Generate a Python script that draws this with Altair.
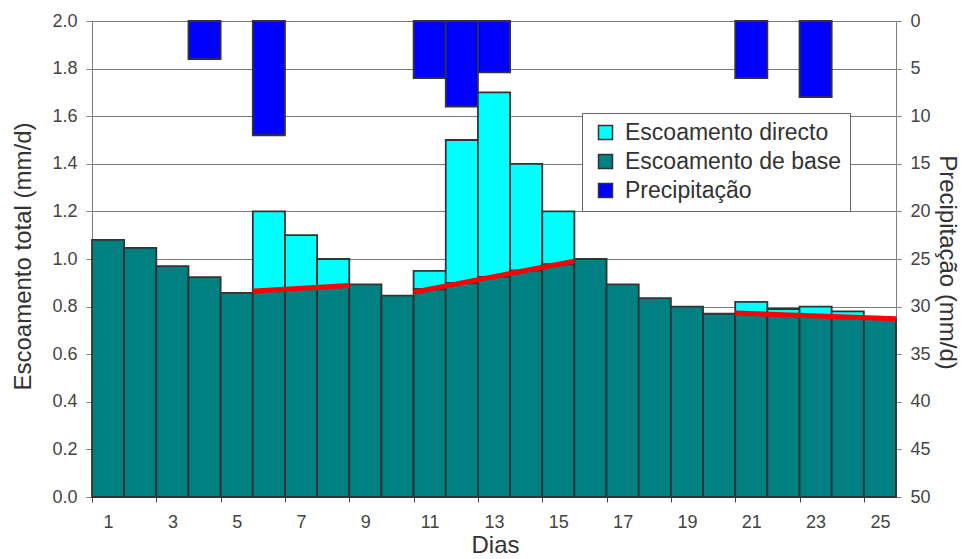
import altair as alt
import pandas as pd

# ---------------- data ----------------
days = list(range(1, 26))
base_flow = [1.080, 1.047, 0.970, 0.924, 0.858, 0.867, 0.877, 0.886, 0.893, 0.846,
             0.873, 0.899, 0.925, 0.951, 0.977, 1.000, 0.893, 0.836, 0.800, 0.770,
             0.770, 0.765, 0.760, 0.755, 0.750]
direct_days = [6, 7, 8, 11, 12, 13, 14, 15, 21, 22, 23, 24]
direct_total = [1.20, 1.10, 1.00, 0.95, 1.50, 1.70, 1.40, 1.20, 0.82, 0.79, 0.80, 0.78]
precip_days = [4, 6, 11, 12, 13, 21, 23]
precip_vals = [4.0, 12.0, 6.0, 9.0, 5.4, 6.0, 8.0]
sep_segment = [1, 1, 2, 2, 3, 3]
sep_x = [5.5, 8.5, 10.5, 15.5, 20.5, 25.5]
sep_y = [0.865, 0.889, 0.861, 0.991, 0.773, 0.749]

series_names = ["Escoamento directo", "Escoamento de base", "Precipitação"]
series_colors = ["#00FFFF", "#008080", "#0000FF"]
left_ticks = [0.0, 0.2, 0.4, 0.6, 0.8, 1.0, 1.2, 1.4, 1.6, 1.8, 2.0]
right_ticks = [0, 5, 10, 15, 20, 25, 30, 35, 40, 45, 50]
x_bounds = [d - 0.5 for d in days] + [25.5]

# ---------------- tables ----------------
base_by_day = dict(zip(days, base_flow))
df_base = pd.DataFrame({"dia": days, "y0": 0.0, "y1": base_flow, "serie": series_names[1]})
df_direct = pd.DataFrame({"dia": direct_days,
                          "y0": [base_by_day[d] for d in direct_days],
                          "y1": direct_total, "serie": series_names[0]})
df_precip = pd.DataFrame({"dia": precip_days, "p0": 0.0, "p1": precip_vals,
                          "serie": series_names[2]})
df_sep = pd.DataFrame({"seg": sep_segment, "x": sep_x, "y": sep_y})
for df in (df_base, df_direct, df_precip):
    df["xa"] = df["dia"] - 0.5
    df["xb"] = df["dia"] + 0.5

W, H = 804, 476
FONT = "Liberation Sans"

xscale = alt.Scale(domain=[0.5, 25.5], nice=False, zero=False)
yscale = alt.Scale(domain=[0, 2.0], nice=False)
pscale = alt.Scale(domain=[0, 50], nice=False, reverse=True)
cscale = alt.Scale(domain=series_names, range=series_colors)

x_axis = alt.Axis(
    values=x_bounds, title="Dias", grid=False,
    labelExpr="datum.value < 25 && (datum.value + 0.5) % 2 == 1 ? format(datum.value + 0.5, 'd') : ''",
    labelOffset=W / 25 / 2, labelOverlap=False, labelFlush=False,
    labelFont=FONT, labelFontSize=18, labelColor="#444", labelPadding=11,
    tickSize=5, tickColor="#444", domainColor="#444",
    titleFont=FONT, titleFontSize=24, titleFontWeight="normal", titleColor="#333",
    titleBaseline="alphabetic", titleY=55, titleX=W / 2 + 1, titleAlign="center",
)
y_axis = alt.Axis(
    values=left_ticks, format=".1f", title="Escoamento total (mm/d)", orient="left",
    grid=True, gridColor="#7a7a7a", gridWidth=1,
    labelFont=FONT, labelFontSize=18, labelColor="#444", labelPadding=9,
    tickSize=6, tickColor="#808080", domainColor="#808080",
    titleFont=FONT, titleFontSize=24, titleFontWeight="normal", titleColor="#333",
    titleAngle=-90, titleBaseline="alphabetic", titleAlign="center",
    titleX=-62, titleY=235,
)
p_axis = alt.Axis(
    values=right_ticks, title="Precipitação (mm/d)", orient="right", grid=False,
    labelFont=FONT, labelFontSize=18, labelColor="#444", labelPadding=9,
    tickSize=5, tickColor="#808080", domainColor="#808080",
    titleFont=FONT, titleFontSize=24, titleFontWeight="normal", titleColor="#333",
    titleAngle=90, titleBaseline="alphabetic", titleAlign="center",
    titleX=43, titleY=241,
)
legend = alt.Legend(
    title=None, orient="none", legendX=490, legendY=92,
    fillColor="white", strokeColor="#666", padding=8, rowPadding=5,
    symbolType="square", symbolSize=196, symbolStrokeColor="#333", symbolStrokeWidth=1.5,
    symbolOffset=4,
    labelFont=FONT, labelFontSize=23, labelColor="#333", labelOffset=8, labelLimit=400,
)

bar_style = dict(stroke="#333333", strokeWidth=1.8)

precip = alt.Chart(df_precip).mark_bar(**bar_style).encode(
    x=alt.X("xa:Q", scale=xscale, axis=x_axis),
    x2="xb:Q",
    y=alt.Y("p0:Q", scale=pscale, axis=p_axis),
    y2="p1:Q",
    color=alt.Color("serie:N", scale=cscale, legend=legend),
)
direct = alt.Chart(df_direct).mark_bar(**bar_style).encode(
    x=alt.X("xa:Q", scale=xscale),
    x2="xb:Q",
    y=alt.Y("y0:Q", scale=yscale, axis=y_axis),
    y2="y1:Q",
    color=alt.Color("serie:N", scale=cscale, legend=legend),
)
basebars = alt.Chart(df_base).mark_bar(**bar_style).encode(
    x=alt.X("xa:Q", scale=xscale),
    x2="xb:Q",
    y=alt.Y("y0:Q", scale=yscale),
    y2="y1:Q",
    color=alt.Color("serie:N", scale=cscale, legend=legend),
)
sepline = alt.Chart(df_sep).mark_line(color="#FF0000", strokeWidth=5).encode(
    x=alt.X("x:Q", scale=xscale),
    y=alt.Y("y:Q", scale=yscale),
    detail="seg:N",
)

flows = alt.layer(direct, basebars, sepline)
chart = alt.layer(precip, flows).resolve_scale(y="independent").properties(
    width=W, height=H,
    autosize=alt.AutoSizeParams(type="none"),
    padding={"left": 84, "top": 13, "right": 66, "bottom": 62},
).configure_view(stroke=None).configure(background="white")

chart.save("out.html", embed_options={"renderer": "svg", "actions": False})
